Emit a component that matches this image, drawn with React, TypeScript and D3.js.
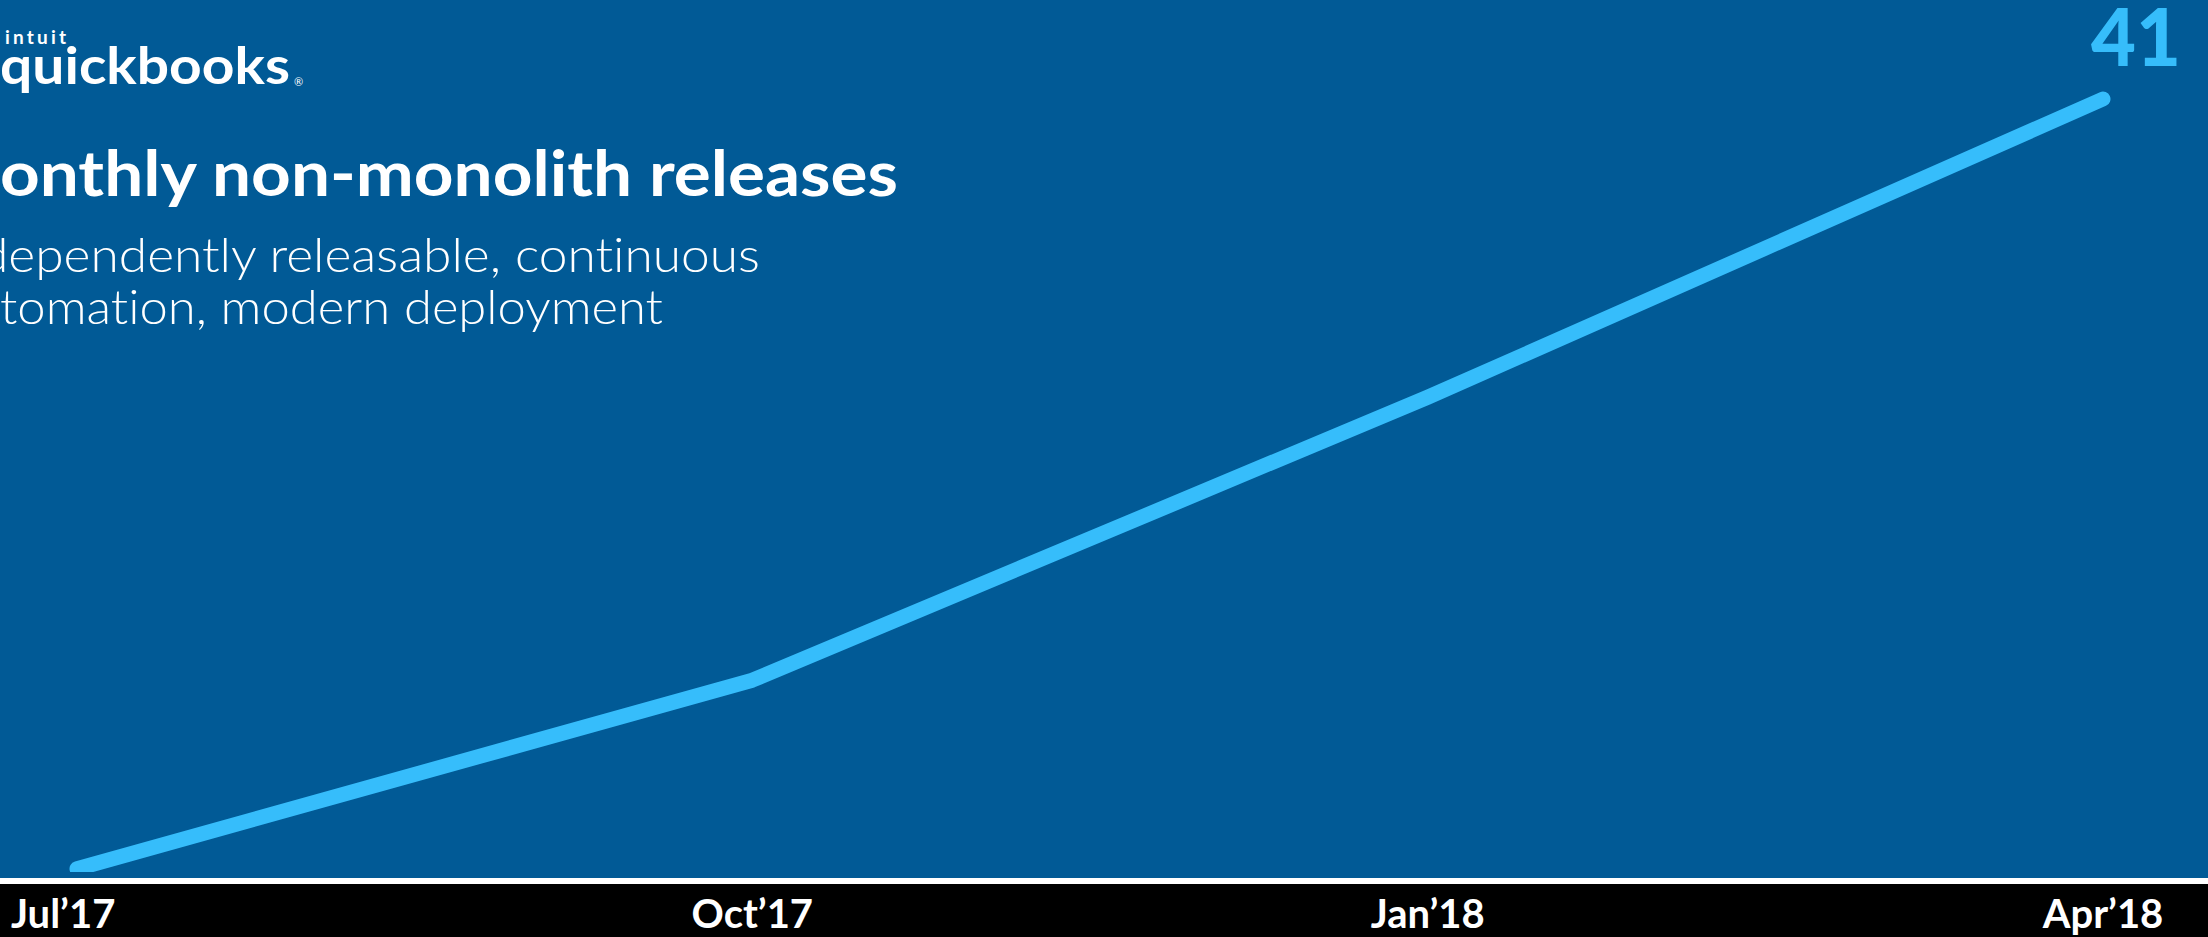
import React from 'react';
import * as d3 from 'd3';

// Data
const months: string[] = ["Jul’17", "Oct’17", "Jan’18", "Apr’18"];
const releases: number[] = [1, 10.8, 25.5, 41];
const yDomain: number[] = [0, 41];
const endLabel = "41";
const titleText = "onthly non-monolith releases";
const subtitleLines: string[] = ["dependently releasable, continuous", "tomation, modern deployment"];

const W = 2208;
const H = 937;
const BG = "#015A96";
const LINE = "#36BDFB";
const FONT = "Lato, 'Open Sans', 'Noto Sans', sans-serif";
const noLig = { fontVariantLigatures: 'none', fontFeatureSettings: "'liga' 0, 'clig' 0" } as React.CSSProperties;

export default function App() {
  const x = d3.scalePoint<string>().domain(months).range([77, 2103]);
  const y = d3.scaleLinear().domain(yDomain).range([888, 99]);
  const lineGen = d3
    .line<number>()
    .x((_, i) => x(months[i]) as number)
    .y((d) => y(d));
  const path = lineGen(releases) || '';

  return (
    <svg
      width={W}
      height={H}
      viewBox={`0 0 ${W} ${H}`}
      style={{ position: 'absolute', left: 0, top: 0, display: 'block' }}
    >
      <defs>
        <clipPath id="plotClip">
          <rect x={0} y={0} width={W} height={872} />
        </clipPath>
      </defs>
      <rect x={0} y={0} width={W} height={H} fill="#000" />
      <rect x={0} y={0} width={W} height={878} fill={BG} />
      <rect x={0} y={878} width={W} height={6} fill="#fff" />

      {/* logo */}
      <text x={5} y={44} fill="#fff" fontFamily={FONT} fontWeight={700} fontSize={19} letterSpacing={3.2} style={noLig}>
        intuit
      </text>
      <text x={0} y={84} fill="#fff" fontFamily={FONT} fontWeight={700} fontSize={51} textLength={290} lengthAdjust="spacingAndGlyphs" style={noLig}>
        quickbooks
      </text>
      <text x={294} y={86} fill="#fff" fontFamily={FONT} fontSize={11}>®</text>

      {/* title */}
      <text x={0} y={196} fill="#fff" fontFamily={FONT} fontWeight={700} fontSize={63} textLength={898} lengthAdjust="spacingAndGlyphs" style={noLig}>
        {titleText}
      </text>
      <text x={-20} y={272} fill="#fff" fontFamily={FONT} fontWeight={300} fontSize={47} textLength={780} lengthAdjust="spacingAndGlyphs" style={noLig}>
        {subtitleLines[0]}
      </text>
      <text x={0} y={324} fill="#fff" fontFamily={FONT} fontWeight={300} fontSize={47} textLength={663} lengthAdjust="spacingAndGlyphs" style={noLig}>
        {subtitleLines[1]}
      </text>

      {/* line */}
      <g clipPath="url(#plotClip)">
        <path d={path} fill="none" stroke={LINE} strokeWidth={15} strokeLinecap="round" strokeLinejoin="round" />
      </g>

      {/* end value */}
      <text
        x={2181}
        y={66}
        textAnchor="end"
        fill={LINE}
        fontFamily={FONT}
        fontWeight={900}
        fontSize={80}
        textLength={90}
        lengthAdjust="spacingAndGlyphs"
      >
        {endLabel}
      </text>

      {/* x axis labels */}
      {months.map((m, i) => (
        <text
          key={m}
          x={i === 0 ? 11 : (x(m) as number)}
          y={928}
          textAnchor={i === 0 ? 'start' : 'middle'}
          fill="#fff"
          fontFamily={FONT}
          fontWeight={700}
          fontSize={40}
        >
          {m}
        </text>
      ))}
    </svg>
  );
}
